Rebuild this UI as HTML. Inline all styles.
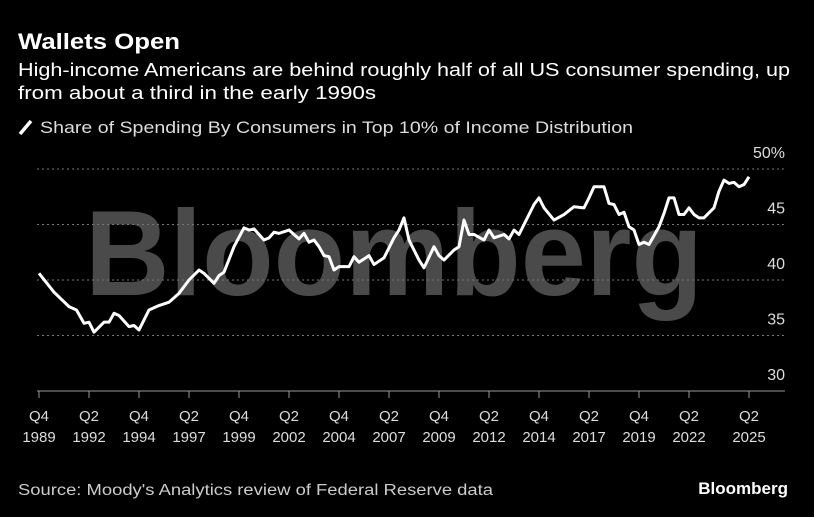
<!DOCTYPE html>
<html><head><meta charset="utf-8"><style>
body{margin:0;background:#000;width:814px;height:517px;overflow:hidden;font-family:"Liberation Sans",sans-serif;color:#fff}
svg{position:absolute;left:0;top:0}
</style></head><body>
<svg id="c" width="814" height="517">
<text x="18" y="49" font-size="22" font-weight="bold" fill="#fff" textLength="162" lengthAdjust="spacingAndGlyphs">Wallets Open</text>
<text x="18" y="76" font-size="18.5" fill="#fff" textLength="772" lengthAdjust="spacingAndGlyphs">High-income Americans are behind roughly half of all US consumer spending, up</text>
<text x="18" y="99" font-size="18.5" fill="#fff" textLength="358" lengthAdjust="spacingAndGlyphs">from about a third in the early 1990s</text>
<line x1="20" y1="134" x2="31" y2="121" stroke="#fff" stroke-width="3.5"/>
<text x="40" y="133" font-size="16.5" fill="#ddd" textLength="593" lengthAdjust="spacingAndGlyphs">Share of Spending By Consumers in Top 10% of Income Distribution</text>
<text x="85" y="295" font-size="122" font-weight="bold" fill="#4a4a4a" textLength="618" lengthAdjust="spacingAndGlyphs">Bloomberg</text>
<g id="grid"></g><g id="xax"></g>
<text x="18" y="495" font-size="15.5" fill="#ccc" textLength="475" lengthAdjust="spacingAndGlyphs">Source: Moody's Analytics review of Federal Reserve data</text>
<text x="788" y="494" font-size="17" font-weight="bold" fill="#fff" text-anchor="end">Bloomberg</text>
</svg>
<script>
const yTicks=[30,35,40,45,50];
const yTickLabels=["30","35","40","45","50%"];
const xTickQ=[0,10,20,30,40,50,60,70,80,90,100,110,120,130,142];
const xTickTop=["Q4","Q2","Q4","Q2","Q4","Q2","Q4","Q2","Q4","Q2","Q4","Q2","Q4","Q2","Q2"];
const xTickBottom=["1989","1992","1994","1997","1999","2002","2004","2007","2009","2012","2014","2017","2019","2022","2025"];
// quarter offset from Q4 1989
const quarters=[0,3,6,7.5,9,10,11,13,14,15,16,18,19,20,22,23,24,26,28,30,32,33,35,36,37,39,41,42,43,45,46,47,48,50,50.5,51,52,53,54,55,56,57,58,59,60,62,63,64,66,67,69,70,71,72,73,74,75,76,77,79,80,81,83,84,85,86,87,89,90,91,93,94,95,96,97,98,99,100,101,103,105,107,109,110,111,113,114,115,116,117,118,119,120,121,122,124,125,126,127,128,129,130,131,132,133,135,136,137,138,139,140,141,142];
const values=[40.6,38.9,37.6,37.3,36.1,36.2,35.3,36.2,36.2,37.0,36.8,35.8,35.9,35.5,37.3,37.5,37.7,38.0,38.8,40.0,40.9,40.6,39.7,40.4,40.7,43.0,44.7,44.5,44.6,43.6,43.8,44.3,44.2,44.5,44.3,44.1,43.7,44.2,43.4,43.6,43.0,42.2,42.1,40.9,41.2,41.2,42.1,41.6,42.2,41.4,42.0,42.9,43.8,44.5,45.6,43.6,42.7,41.8,41.1,43.0,42.2,41.8,42.7,43.0,45.4,44.1,44.1,43.6,44.5,43.8,44.1,43.7,44.5,44.1,45.0,45.9,46.8,47.4,46.5,45.4,45.9,46.6,46.5,47.4,48.4,48.4,46.9,46.8,45.9,46.1,44.8,44.5,43.2,43.4,43.2,44.8,46.0,47.4,47.4,45.9,45.9,46.5,45.9,45.6,45.6,46.5,48.0,49.0,48.7,48.8,48.4,48.6,49.3];
const NS="http://www.w3.org/2000/svg";
const X=q=>39+q*5;
const Y=v=>391-(v-30)*11.1;
const grid=document.getElementById('grid'),xax=document.getElementById('xax');
yTicks.forEach((t,i)=>{
  if(t>30){const l=document.createElementNS(NS,'line');
  l.setAttribute('x1',37);l.setAttribute('x2',785);l.setAttribute('y1',Y(t));l.setAttribute('y2',Y(t));
  l.setAttribute('stroke','#777');l.setAttribute('stroke-dasharray','2 3');l.setAttribute('stroke-width','1');
  
  
  grid.appendChild(l);}
  const tx=document.createElementNS(NS,'text');
  tx.setAttribute('x',785);tx.setAttribute('y',Y(t)-11);tx.setAttribute('text-anchor','end');
  tx.setAttribute('font-size','16');tx.setAttribute('fill','#ddd');tx.textContent=yTickLabels[i];
  
  
  grid.appendChild(tx);
});
const ax=document.createElementNS(NS,'line');
ax.setAttribute('x1',37);ax.setAttribute('x2',785);ax.setAttribute('y1',391);ax.setAttribute('y2',391);
ax.setAttribute('stroke','#999');ax.setAttribute('stroke-width','1');


xax.appendChild(ax);
xTickQ.forEach((q,i)=>{
  const t=document.createElementNS(NS,'line');
  t.setAttribute('x1',X(q));t.setAttribute('x2',X(q));t.setAttribute('y1',391);t.setAttribute('y2',398);
  t.setAttribute('stroke','#999');
  
  
  xax.appendChild(t);
  [[xTickTop[i],421],[xTickBottom[i],442]].forEach(([s,y])=>{
    const tx=document.createElementNS(NS,'text');
    tx.setAttribute('x',X(q));tx.setAttribute('y',y);tx.setAttribute('text-anchor','middle');
    tx.setAttribute('font-size','15');tx.setAttribute('fill','#ddd');tx.textContent=s;
    
    
    xax.appendChild(tx);
  });
});
const p=document.createElementNS(NS,'polyline');
p.setAttribute('points',quarters.map((q,i)=>X(q)+','+Y(values[i])).join(' '));
p.setAttribute('fill','none');p.setAttribute('stroke','#fff');p.setAttribute('stroke-width','3');p.setAttribute('stroke-linejoin','round');


document.getElementById('c').appendChild(p);
</script>
</body></html>
